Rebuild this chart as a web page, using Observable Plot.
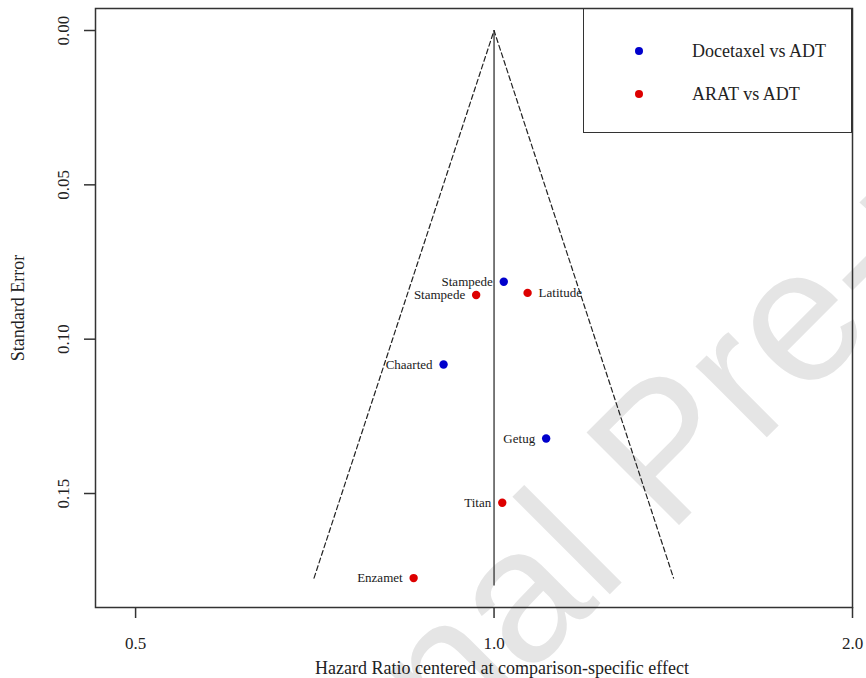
<!DOCTYPE html>
<html>
<head>
<meta charset="utf-8">
<script src="https://cdn.jsdelivr.net/npm/d3@7"></script>
<script src="https://cdn.jsdelivr.net/npm/@observablehq/plot@0.6"></script>
<style>
  body { margin: 0; background: #fff; }
  #wrap { position: relative; width: 866px; height: 678px; overflow: hidden; font-family: "Liberation Serif", "Times New Roman", serif; color: #222; }
  #wm { position: absolute; left: 0; top: 0; z-index: 0; }
  #chart { position: absolute; left: 0; top: 0; z-index: 1; }
  #legend { position: absolute; left: 583px; top: 8px; width: 269px; height: 125px; box-sizing: border-box; border: 1.5px solid #333; background: transparent; z-index: 2; }
  .li { position: absolute; left: 0; height: 20px; width: 100%; }
  .li .d { position: absolute; left: 51px; top: 6px; width: 8px; height: 8px; border-radius: 50%; }
  .li .t { position: absolute; left: 108px; top: 0; font-size: 18px; line-height: 20px; white-space: nowrap; }
</style>
</head>
<body>
<div id="wrap">
  <svg id="wm" width="866" height="678"><text x="190" y="1014" transform="rotate(-45 190 1014)" font-family="Liberation Sans, Arial, sans-serif" font-size="190" fill="#e5e5e5">Journal Pre-proof</text></svg>
  <div id="chart"></div>
  <div id="legend"></div>
</div>
<script>
// ---- data ----
const studies       = ["Stampede", "Stampede", "Latitude", "Chaarted", "Getug", "Titan", "Enzamet"];
const comparisons   = ["Docetaxel vs ADT", "ARAT vs ADT", "ARAT vs ADT", "Docetaxel vs ADT", "Docetaxel vs ADT", "ARAT vs ADT", "ARAT vs ADT"];
const hazardRatios  = [1.019, 0.966, 1.067, 0.907, 1.106, 1.016, 0.856];
const standardErrors = [0.0814, 0.0857, 0.0850, 0.1082, 0.1322, 0.1530, 0.1774];
const labelSide     = ["left", "left", "right", "left", "left", "left", "left"];
const funnelHR      = [0.706, 1.0, 1.415];
const funnelSE      = [0.1774, 0, 0.1774];
const xTicks        = [0.5, 1.0, 2.0];
const yTicks        = [0, 0.05, 0.10, 0.15];
const seriesNames   = ["Docetaxel vs ADT", "ARAT vs ADT"];
const seriesColors  = ["#0000cc", "#dd0000"];

const data = studies.map((s, i) => ({study: s, comp: comparisons[i], hr: hazardRatios[i], se: standardErrors[i], side: labelSide[i]}));
const funnel = funnelHR.map((x, i) => ({hr: x, se: funnelSE[i]}));
const font = '"Liberation Serif", "Times New Roman", serif';

const plot = Plot.plot({
  width: 866, height: 678,
  marginTop: 8, marginBottom: 71, marginLeft: 95, marginRight: 14,
  style: {fontFamily: font, background: "transparent", color: "#222", overflow: "visible"},
  x: {type: "log", domain: [0.4627, 2.0]},
  y: {domain: [-0.00713, 0.18693], reverse: true},
  color: {domain: seriesNames, range: seriesColors},
  marks: [
    Plot.ruleX([1], {y1: 0, y2: 0.18, stroke: "#333", strokeWidth: 1.3}),
    Plot.line(funnel, {x: "hr", y: "se", stroke: "#222", strokeWidth: 1.2, strokeDasharray: "5,3"}),
    Plot.axisX({ticks: xTicks, tickSize: 11, tickFormat: () => "", label: null, stroke: "#333", strokeWidth: 1.5}),
    Plot.axisY({ticks: yTicks, tickSize: 11, tickFormat: () => "", label: null, stroke: "#333", strokeWidth: 1.5}),
    Plot.text(xTicks, {x: d => d, text: d => d3.format(".1f")(d), frameAnchor: "bottom", lineAnchor: "middle", textAnchor: "middle", dy: 36, fontSize: 17, fill: "#222"}),
    Plot.text(yTicks, {y: d => d, text: d => d3.format(".2f")(d), frameAnchor: "left", textAnchor: "middle", lineAnchor: "middle", dx: -32, rotate: -90, fontSize: 17, fill: "#222"}),
    Plot.frame({stroke: "#333", strokeWidth: 1.5}),
    Plot.dot(data, {x: "hr", y: "se", fill: "comp", r: 4.2}),
    Plot.text(data.filter(d => d.side === "left"), {x: "hr", y: "se", text: "study", textAnchor: "end", dx: -11, fontSize: 13, fill: "#1a1a1a"}),
    Plot.text(data.filter(d => d.side === "right"), {x: "hr", y: "se", text: "study", textAnchor: "start", dx: 11, fontSize: 13, fill: "#1a1a1a"}),
    Plot.text(["Hazard Ratio centered at comparison-specific effect"], {frameAnchor: "bottom", textAnchor: "middle", lineAnchor: "middle", dx: 28, dy: 61, fontSize: 18, fill: "#222"}),
    Plot.text(["Standard Error"], {frameAnchor: "left", textAnchor: "middle", lineAnchor: "middle", dx: -77, rotate: -90, fontSize: 18, fill: "#222"})
  ]
});
document.getElementById("chart").appendChild(plot);

// legend (inside the plot's top-right corner)
const legend = document.getElementById("legend");
const legendTops = [32, 75];
seriesNames.forEach((name, i) => {
  const item = document.createElement("div");
  item.className = "li";
  item.style.top = legendTops[i] + "px";
  item.innerHTML = `<span class="d" style="background:${seriesColors[i]}"></span><span class="t">${name}</span>`;
  legend.appendChild(item);
});
</script>
</body>
</html>
